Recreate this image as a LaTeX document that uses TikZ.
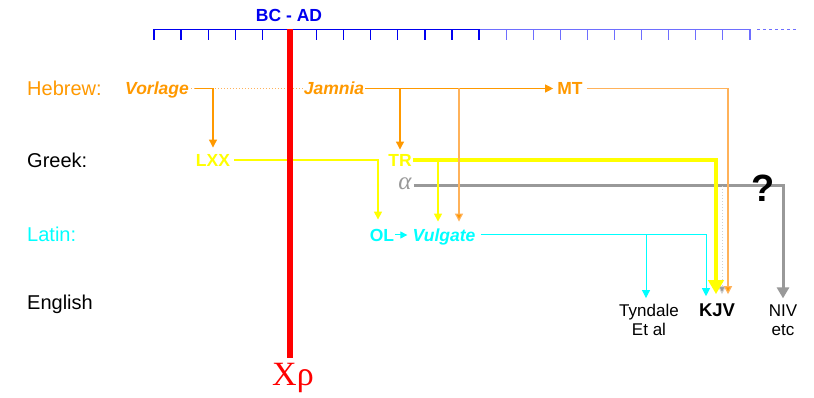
\documentclass[tikz,border=0pt]{standalone}
\usepackage{fontspec}
\setmainfont{Liberation Sans}
\newfontfamily\timesfont{Liberation Serif}
\usetikzlibrary{arrows.meta, positioning, calc}

\definecolor{hebOr}{RGB}{255,153,0}
\definecolor{hebLt}{RGB}{255,178,90}
\definecolor{grkY}{RGB}{255,255,0}
\definecolor{latC}{RGB}{0,255,255}
\definecolor{alGr}{RGB}{153,153,153}
\definecolor{tlBlue}{RGB}{0,0,240}
\definecolor{tlLt}{RGB}{110,110,255}

\begin{document}
\begin{tikzpicture}[x=1pt, y=-1pt,
  langlbl/.style={anchor=west, inner sep=0pt, font=\fontsize{20}{22}\selectfont},
  srcbox/.style={inner sep=2pt, text height=12.5pt, text depth=0pt,
                 font=\fontsize{17.5}{19}\selectfont\bfseries},
  srcit/.style={srcbox, font=\fontsize{17.5}{19}\selectfont\bfseries\itshape},
  engbox/.style={inner sep=2pt, align=center, font=\fontsize{17}{19}\selectfont},
  orarr/.style={draw=hebOr, line width=1.2pt, -{Triangle[length=8pt,width=8pt]}},
  orlt/.style={draw=hebLt, line width=1.2pt, -{Triangle[length=8pt,width=8pt,fill=hebOr]}},
  yarr/.style={draw=grkY, line width=1.5pt, -{Triangle[length=8pt,width=8pt]}},
  carr/.style={draw=latC, line width=1pt, -{Triangle[length=8pt,width=8pt]}},
  garr/.style={draw=alGr, line width=3pt, -{Triangle[length=11pt,width=12pt]}}
]

%% white page
\fill[white] (0,0) rectangle (814,398);

%% timeline
\draw[tlBlue, line width=1.5pt] (154,29.5) -- (479,29.5);
\draw[tlLt, line width=1.5pt] (479,29.5) -- (750,29.5);
\draw[tlLt, line width=1.2pt, dashed] (757,29.5) -- (797,29.5);
\foreach \i in {0,...,12}
  \draw[tlBlue, line width=1.2pt] (154+27.09*\i,29.5) -- (154+27.09*\i,40);
\foreach \i in {13,...,22}
  \draw[tlLt, line width=1.2pt] (154+27.09*\i,29.5) -- (154+27.09*\i,40);
\coordinate (zero) at (290,29.5);
\node[srcbox, text=tlBlue] (bcad) at (289,15) {BC - AD};

%% language rows
\node[langlbl, text=hebOr] (heb) at (27,88) {Hebrew:};
\node[langlbl] (grk) at (27,160) {Greek:};
\node[langlbl, text=latC] (lat) at (27,234) {Latin:};
\node[langlbl] (eng) at (27,304) {English};

%% text nodes
\node[srcit, text=hebOr] (vorlage) at (157,88.5) {Vorlage};
\node[srcit, text=hebOr, inner sep=1pt] (jamnia) at (334,88.5) {Jamnia};
\node[srcbox, text=hebOr, inner sep=4pt] (mt) at (570,88.5) {MT};
\node[srcbox, text=grkY, inner sep=4pt] (lxx) at (213,160) {LXX};
\node[srcbox, text=grkY, inner sep=1pt] (tr) at (400,160) {TR};
\node[text=alGr, inner sep=2pt, font=\timesfont\itshape\fontsize{25}{26}\selectfont] (alpha) at (405,184) {α};
\node[srcbox, text=latC, inner sep=1pt] (ol) at (382,235) {OL};
\node[srcit, text=latC, inner sep=5pt] (vulgate) at (444,235) {Vulgate};
\node[engbox] (tyndale) at (649,320) {Tyndale\\Et al};
\node[srcbox, inner sep=3pt, text height=13.2pt, font=\fontsize{18.5}{20}\selectfont\bfseries] (kjv) at (717,310) {KJV};
\node[engbox] (niv) at (783,320) {NIV\\etc};
\node[inner sep=0pt, font=\timesfont\fontsize{34}{36}\selectfont, text=red] (xrho) at (293,378) {Xρ};

%% Hebrew
\draw[hebLt, line width=1pt, dotted] (vorlage.east) -- (jamnia.west);
\draw[orarr, shorten <=4pt, shorten >=2pt] (vorlage.east) -| (lxx.north);
\draw[orarr] (jamnia.east) -- (mt.west);
\draw[orarr, shorten >=3pt] (jamnia.east) -| (tr.north);

%% alpha
\draw[garr, shorten >=4pt] (alpha.east |- 0,186) -| (niv.north);
\draw[alGr!45, line width=1pt, dotted, -{Triangle[length=8pt,width=8pt,fill=alGr]}, shorten >=6pt]
  ([xshift=5pt]kjv.north |- 0,186) -- ([xshift=5pt]kjv.north);

%% Greek
\draw[yarr, shorten >=8pt] (lxx.east) -| ([xshift=-4pt]ol.north);
\draw[draw=grkY, line width=4pt, -{Triangle[length=14pt,width=15pt]}, shorten >=6pt]
  (tr.east) -| ([xshift=-1pt]kjv.north);
\draw[yarr, shorten >=2pt] ([xshift=-6pt]vulgate.north |- tr.east) -- ([xshift=-6pt]vulgate.north);

%% Hebrew, late
\draw[orlt, shorten >=2pt] ([xshift=15pt]vulgate.north |- jamnia.east) -- ([xshift=15pt]vulgate.north);
\draw[orlt, shorten >=6pt] (mt.east) -| ([xshift=11pt]kjv.north);

%% Latin
\draw[carr, -{Triangle[length=7pt,width=7pt]}] (ol.east) -- (vulgate.west);
\draw[carr, shorten >=4pt] (vulgate.east) -| ([xshift=-11pt]kjv.north);
\draw[carr, shorten >=4pt] ([xshift=-3pt]tyndale.north |- vulgate.east) -- ([xshift=-3pt]tyndale.north);

%% red marker
\draw[red, line width=6pt] (zero) -- ([yshift=5pt]zero |- xrho.north);

\node[inner sep=0pt, font=\fontsize{38}{40}\selectfont\bfseries] (qmark) at (763,188) {?};

\end{tikzpicture}
\end{document}
